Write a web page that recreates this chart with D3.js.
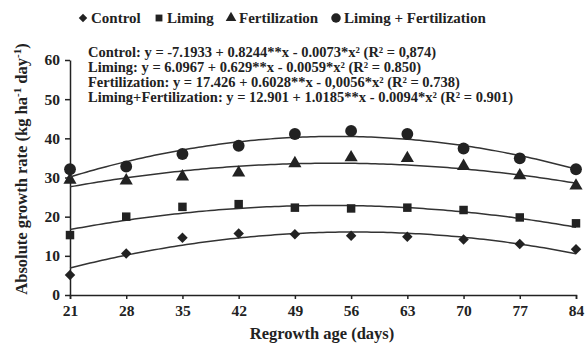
<!DOCTYPE html>
<html>
<head>
<meta charset="utf-8">
<script src="https://cdn.jsdelivr.net/npm/d3@7"></script>
</head>
<body style="margin:0; background:#fff">
<div class="chart"></div>
<script>
// regrowth age (days)
const days = [21, 28, 35, 42, 49, 56, 63, 70, 77, 84];
const yTicks = [0, 10, 20, 30, 40, 50, 60];

// absolute growth rate
const control = [5.1, 10.6, 14.6, 15.7, 15.5, 15.1, 14.9, 14.2, 13.0, 11.7];
const liming = [15.3, 20.0, 22.5, 23.2, 22.3, 22.1, 22.3, 21.7, 19.8, 18.3];
const fertilization = [29.4, 29.2, 30.2, 31.2, 33.6, 35.1, 34.9, 32.9, 30.5, 27.9];
const limingFert = [32.1, 32.8, 36.0, 38.1, 41.1, 41.9, 41.1, 37.4, 34.9, 32.1];

// regression coefficients as printed on the chart: [b0, b1, b2]
const coefControl = [-7.1933, 0.8244, -0.0073];
const coefLiming = [6.0967, 0.629, -0.0059];
const coefFert = [17.426, 0.6028, -0.0056];
const coefLimingFert = [12.901, 1.0185, -0.0094];

const seriesNames = ['Control', 'Liming', 'Fertilization', 'Liming + Fertilization'];
const equations = [
  'Control: y = -7.1933 + 0.8244**x - 0.0073*x² (R² = 0,874)',
  'Liming: y = 6.0967 + 0.629**x - 0.0059*x² (R² = 0.850)',
  'Fertilization: y = 17.426 + 0.6028**x - 0,0056*x² (R² = 0.738)',
  'Liming+Fertilization: y = 12.901 + 1.0185**x - 0.0094*x² (R² = 0.901)'
];

const width = 587, height = 347;
const ink = '#222';

const svg = d3.select('.chart').append('svg')
  .attr('width', width)
  .attr('height', height)
  .attr('font-family', 'Liberation Serif')
  .style('display', 'block');

// helper: bold serif text styling
function txt(sel, size) {
  return sel.attr('font-family', 'Liberation Serif')
    .style('font-family', '"Liberation Serif", monospace')
    .style('font-weight', 'bold')
    .style('font-size', size + 'px')
    .attr('fill', ink);
}

const x = d3.scaleLinear().domain([21, 84]).range([70, 576]);
const y = d3.scaleLinear().domain([0, 60]).range([295, 60]);

// axes
const xAxis = svg.append('g')
  .attr('transform', `translate(0, ${y(0)})`)
  .call(d3.axisBottom(x).tickValues(days).tickSize(4).tickSizeOuter(4).tickPadding(4));
const yAxis = svg.append('g')
  .attr('transform', `translate(${x(21)}, 0)`)
  .call(d3.axisLeft(y).tickValues(yTicks).tickSize(5).tickSizeOuter(0).tickPadding(5));

[xAxis, yAxis].forEach(a => {
  a.attr('font-family', 'Liberation Serif');
  a.selectAll('path, line').attr('stroke', ink).attr('stroke-width', 1.5);
  txt(a.selectAll('text'), 15.5);
});
xAxis.selectAll('text').attr('dy', '0.85em');

// axis titles
txt(svg.append('text'), 16.5)
  .attr('x', 322)
  .attr('y', 339)
  .attr('text-anchor', 'middle')
  .text('Regrowth age (days)');

const yTitle = txt(svg.append('text'), 16.5)
  .attr('transform', `translate(27, 169) rotate(-90)`)
  .attr('text-anchor', 'middle');
yTitle.append('tspan').text('Absolute growth rate (kg ha');
yTitle.append('tspan').attr('dy', -6).style('font-size', '11px').text('-1');
yTitle.append('tspan').attr('dy', 6).text(' day');
yTitle.append('tspan').attr('dy', -6).style('font-size', '11px').text('-1');
yTitle.append('tspan').attr('dy', 6).text(')');

// series
const series = [
  { name: seriesNames[0], values: control, coef: coefControl, shape: d3.symbolSquare, size: 55, rot: 45 },
  { name: seriesNames[1], values: liming, coef: coefLiming, shape: d3.symbolSquare, size: 72, rot: 0 },
  { name: seriesNames[2], values: fertilization, coef: coefFert, shape: d3.symbolTriangle, size: 75, rot: 0 },
  { name: seriesNames[3], values: limingFert, coef: coefLimingFert, shape: d3.symbolCircle, size: 110, rot: 0 }
];

const fitLine = d3.line()
  .x(d => x(d[0]))
  .y(d => y(d[1]));

const xs = d3.range(21, 84.01, 0.5);

series.forEach(s => {
  // fitted quadratic from the printed coefficients
  const fit = xs.map(v => [v, s.coef[0] + s.coef[1] * v + s.coef[2] * v * v]);
  svg.append('path')
    .datum(fit)
    .attr('fill', 'none')
    .attr('stroke', '#333')
    .attr('stroke-width', 1.5)
    .attr('d', fitLine);

  svg.append('g').selectAll('path')
    .data(s.values)
    .enter()
    .append('path')
    .attr('transform', (d, i) => `translate(${x(days[i])}, ${y(d)}) rotate(${s.rot})`)
    .attr('d', d3.symbol().type(s.shape).size(s.size))
    .attr('fill', ink);
});

// legend
const legendX = [83, 159, 231, 336];
const legend = svg.append('g');
series.forEach((s, i) => {
  legend.append('path')
    .attr('transform', `translate(${legendX[i]}, 18) rotate(${s.rot})`)
    .attr('d', d3.symbol().type(s.shape).size(s.size * 0.65))
    .attr('fill', ink);
  txt(legend.append('text'), 15)
    .attr('x', legendX[i] + 8)
    .attr('y', 23)
    .text(s.name);
});

// regression equations
txt(svg.append('g').selectAll('text')
  .data(equations)
  .enter()
  .append('text'), 14.5)
  .attr('x', 88)
  .attr('y', (d, i) => 57 + i * 15)
  .text(d => d);
</script>
</body>
</html>
